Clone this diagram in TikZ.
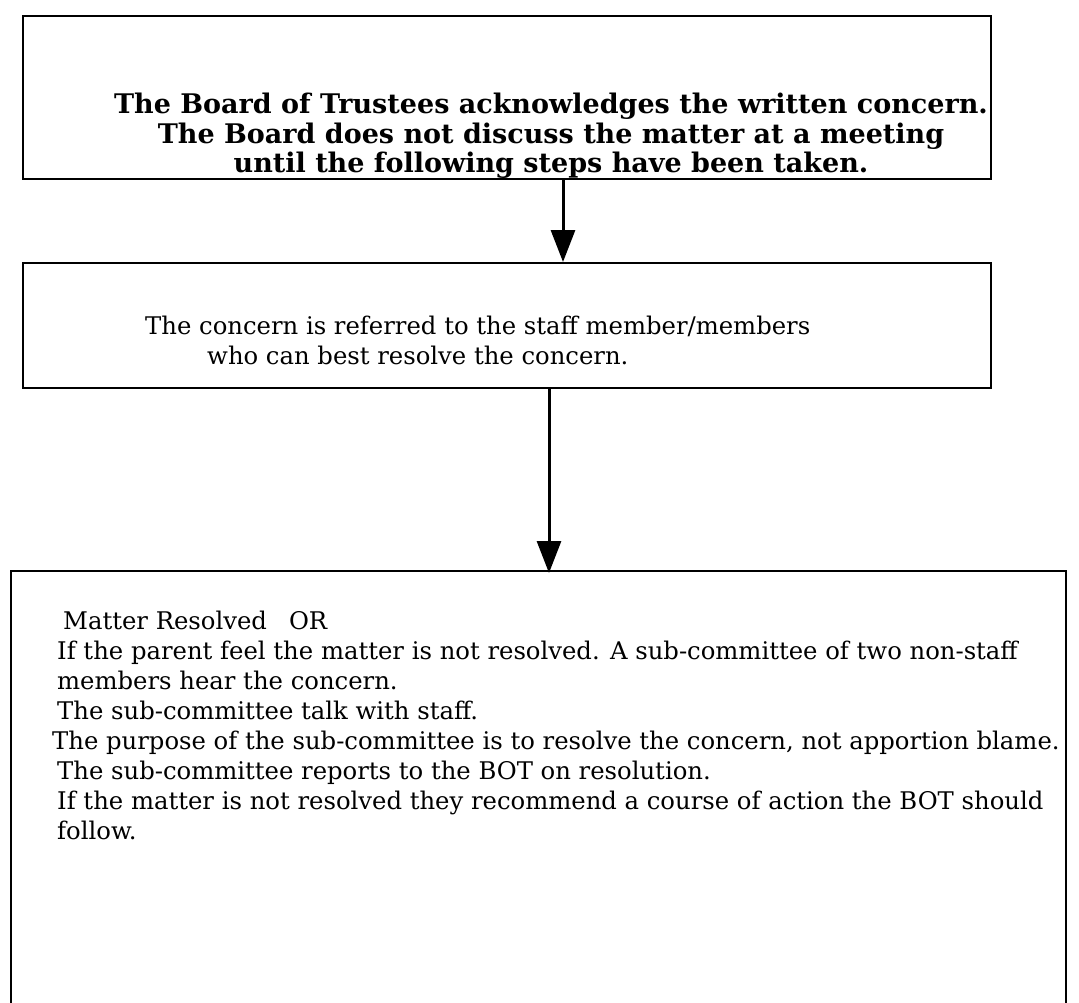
\documentclass[tikz,border=0pt]{standalone}
\usepackage{fontspec}
\setmainfont{DejaVu Serif}
\usetikzlibrary{arrows.meta}

\tikzset{
  stepbox/.style={draw, line width=2pt, inner sep=0pt},
  flow/.style={line width=3pt, -{Triangle[length=32pt, width=24pt]}},
  boldtext/.style={font=\bfseries\fontsize{27}{29.5}\selectfont, align=center, inner sep=0pt},
  plaintext/.style={font=\fontsize{24.3}{30}\selectfont, align=left, inner sep=0pt, anchor=north west}
}

\begin{document}
\begin{tikzpicture}[x=1pt, y=-1pt]
        \useasboundingbox (0,0) rectangle (1079,1002);
        \clip (0,0) rectangle (1079,1002);

        % --- Box 1: the Board acknowledges ---
        \node[stepbox, anchor=north west, minimum width=968pt, minimum height=163pt] (board) at (22,15) {};
        \node[boldtext] (boardtxt) at (551,136)
            {The Board of Trustees acknowledges the written concern.\\
             The Board does not discuss the matter at a meeting\\
             until the following steps have been taken.};

        % --- Box 2: referred to staff ---
        \node[stepbox, anchor=north west, minimum width=968pt, minimum height=125pt] (staff) at (22,262) {};
        \node[plaintext] (stafftxt) at (145,316)
            {The concern is referred to the staff member/members\\
             \hspace{62pt}who can best resolve the concern.};

        % --- Box 3: sub-committee (open at the bottom) ---
        \node[stepbox, anchor=north west, minimum width=1055pt, minimum height=480pt] (subcom) at (10,570) {};
        \node[plaintext] (subcomtxt) at (57,611)
            {\hspace{6pt}Matter Resolved\hspace{22pt}OR\\
             If the parent feel the matter is not resolved. A sub-committee of two non-staff\\
             members hear the concern.\\
             The sub-committee talk with staff.\\
             \hspace{-5pt}The purpose of the sub-committee is to resolve the concern, not apportion blame.\\
             The sub-committee reports to the BOT on resolution.\\
             If the matter is not resolved they recommend a course of action the BOT should\\
             follow.};

        % --- Arrows ---
        \draw[flow] ([xshift=56pt]board.south) -- ([xshift=56pt]staff.north);
        \draw[flow] ([xshift=42pt]staff.south) -- ([xshift=10.5pt, yshift=-3pt]subcom.north);
\end{tikzpicture}
\end{document}
